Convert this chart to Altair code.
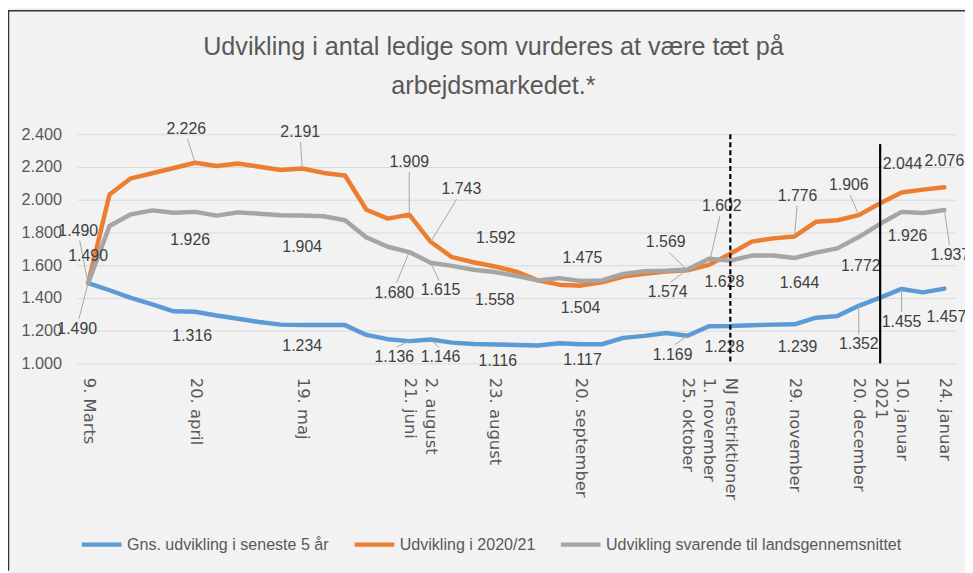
import altair as alt
import pandas as pd

# ---------------- data ----------------
week_idx = list(range(41))
series_names = [
    "Gns. udvikling i seneste 5 år",
    "Udvikling i 2020/21",
    "Udvikling svarende til landsgennemsnittet",
]
blue = [1490, 1447, 1400, 1360, 1318, 1316, 1293, 1273, 1253, 1237, 1234, 1234, 1234, 1174,
        1148, 1136, 1146, 1127, 1118, 1116, 1113, 1109, 1123, 1117, 1117, 1156, 1168, 1186,
        1169, 1227, 1228, 1233, 1237, 1239, 1279, 1289, 1352, 1402, 1455, 1434, 1457]
orange = [1490, 2032, 2131, 2162, 2194, 2226, 2206, 2222, 2202, 2182, 2191, 2164, 2148, 1939,
          1885, 1909, 1743, 1649, 1618, 1592, 1561, 1507, 1481, 1475, 1495, 1531, 1547, 1562,
          1569, 1602, 1670, 1744, 1764, 1776, 1865, 1875, 1906, 1979, 2044, 2062, 2076]
gray = [1490, 1840, 1911, 1935, 1921, 1926, 1903, 1923, 1915, 1905, 1904, 1899, 1875, 1770,
        1713, 1680, 1615, 1596, 1572, 1558, 1535, 1507, 1521, 1504, 1507, 1547, 1563, 1566,
        1574, 1640, 1628, 1659, 1659, 1644, 1677, 1703, 1772, 1853, 1926, 1919, 1937]

tick_idx = [0, 5, 10, 15, 16, 19, 23, 28, 29, 30, 33, 36, 37, 38, 40]
tick_labels = ["9. Marts", "20. april", "19. maj", "21. juni", "2. august", "23. august",
               "20. september", "25. oktober", "1. november", "NJ restriktioner",
               "29. november", "20. december", "2021", "10. januar", "24. januar"]
y_ticks = [1000, 1200, 1400, 1600, 1800, 2000, 2200, 2400]

blue_label_idx = [0, 5, 10, 15, 16, 19, 23, 28, 30, 33, 36, 38, 40]
orange_label_idx = [0, 5, 10, 15, 16, 19, 23, 28, 29, 33, 36, 38, 40]
gray_label_idx = [0, 5, 10, 15, 16, 19, 23, 28, 30, 33, 36, 38, 40]

marker_idx = [30, 37]
marker_top = [2400, 2340]

# ---------------- styling: label placement in pixels relative to its point ----------------
blue_label_off = [(-11, 46), (-3, 25), (0, 21), (-15, 16), (10, 18), (3, 17), (2, 16),
                  (-15, 19), (-6, 21), (3, 23), (0, 39), (0, 33), (2, 29)]
orange_label_off = [(-10, -53), (-9, -34), (-2, -37), (0, -53), (31, -53), (1, -29), (2, -28),
                    (-22, -28), (13, -59), (3, -41), (-10, -30), (1, -29), (0, -27)]
gray_label_off = [(0, -27), (-5, 28), (0, 32), (-15, 41), (10, 28), (0, 28), (0, 27),
                  (-20, 23), (-6, 22), (5, 25), (2, 29), (6, 24), (6, 45)]

colors = ["#5B9BD5", "#ED7D31", "#A5A5A5"]
FONT = "Liberation Sans"
XFONT = "DejaVu Sans"
PLOT_W, PLOT_H = 885, 231
N_CAT = len(week_idx)
PX_PER_IDX = PLOT_W / N_CAT
PX_PER_UNIT = PLOT_H / (y_ticks[-1] - y_ticks[0])

# ---------------- tables ----------------
rows = []
for name, vals in zip(series_names, [blue, orange, gray]):
    for i, v in zip(week_idx, vals):
        rows.append({"series": name, "idx": i, "value": v})
lines_df = pd.DataFrame(rows)

lrows = []
for name, vals, lidx, offs in zip(series_names, [blue, orange, gray],
                                  [blue_label_idx, orange_label_idx, gray_label_idx],
                                  [blue_label_off, orange_label_off, gray_label_off]):
    for i, (dx, dy) in zip(lidx, offs):
        sign = 1 if dy > 0 else -1
        lrows.append({"series": name, "idx": i, "value": vals[i], "dx": dx, "dy": dy,
                      "ldx": dx * 0.85, "ldy": dy - sign * 10,
                      "leader": abs(dy) >= 33 or abs(dx) >= 10})
labels_df = pd.DataFrame(lrows)
leader_df = labels_df[labels_df["leader"]].reset_index(drop=True)

marker_df = pd.DataFrame({"idx": marker_idx, "top": marker_top,
                          "base": [y_ticks[0]] * len(marker_idx)})

# ---------------- scales / axes ----------------
x_scale = alt.Scale(domain=[-0.5, N_CAT - 0.5], nice=False, zero=False)
y_scale = alt.Scale(domain=[y_ticks[0], y_ticks[-1]], nice=False, zero=False)
color_scale = alt.Scale(domain=series_names, range=colors)

label_expr = " : ".join(f"datum.value == {i} ? '{t}'" for i, t in zip(tick_idx, tick_labels)) + " : ''"
x_axis = alt.Axis(values=tick_idx, labelExpr=label_expr, labelAngle=90, grid=False, domain=False,
                  ticks=False, labelFont=XFONT, labelFontSize=16.5, labelColor="#595959",
                  labelPadding=14, title=None, labelOverlap=False, labelFlush=False)
y_axis = alt.Axis(values=y_ticks, labelExpr="replace(format(datum.value, ',.0f'), ',', '.')",
                  grid=True, gridColor="#d9d9d9", gridWidth=1, domain=False, ticks=False,
                  labelFont=FONT, labelFontSize=16.4, labelColor="#595959", labelPadding=16,
                  title=None)

X = alt.X("idx:Q", scale=x_scale, axis=x_axis)
Y = alt.Y("value:Q", scale=y_scale, axis=y_axis)

legend = alt.Legend(orient="none", legendX=2, legendY=391, direction="horizontal", title=None,
                    symbolType="stroke", symbolSize=1600, symbolStrokeWidth=4.5,
                    labelFont=FONT, labelFontSize=16.2, labelColor="#595959", labelOffset=3,
                    columnPadding=16, padding=0, labelLimit=500)

layers = []
for name in series_names:
    layers.append(
        alt.Chart(lines_df).transform_filter(alt.datum.series == name)
        .mark_line(strokeWidth=4.5, strokeJoin="round", strokeCap="round")
        .encode(x=X, y=Y, color=alt.Color("series:N", scale=color_scale, legend=legend))
    )

leaders = alt.Chart(leader_df).transform_calculate(
    lx=f"datum.idx + datum.ldx / {PX_PER_IDX}",
    ly=f"datum.value - datum.ldy / {PX_PER_UNIT}",
).mark_rule(color="#a6a6a6", strokeWidth=1).encode(
    x=alt.X("lx:Q", scale=x_scale, axis=x_axis), x2="idx:Q",
    y=alt.Y("ly:Q", scale=y_scale, axis=y_axis), y2="value:Q",
)

texts = alt.Chart(labels_df).transform_calculate(
    txt="replace(format(datum.value, ',.0f'), ',', '.')",
    tx=f"datum.idx + datum.dx / {PX_PER_IDX}",
    ty=f"datum.value - datum.dy / {PX_PER_UNIT}",
).mark_text(font=FONT, fontSize=16, color="#404040", align="center", baseline="middle").encode(
    x=alt.X("tx:Q", scale=x_scale, axis=x_axis),
    y=alt.Y("ty:Q", scale=y_scale, axis=y_axis),
    text="txt:N",
)

dashed = alt.Chart(marker_df.iloc[[0]]).mark_rule(color="black", strokeWidth=2.2, strokeDash=[5, 3]).encode(
    x=alt.X("idx:Q", scale=x_scale, axis=x_axis),
    y=alt.Y("top:Q", scale=y_scale, axis=y_axis), y2="base:Q")
solid = alt.Chart(marker_df.iloc[[1]]).mark_rule(color="black", strokeWidth=2.2).encode(
    x=alt.X("idx:Q", scale=x_scale, axis=x_axis),
    y=alt.Y("top:Q", scale=y_scale, axis=y_axis), y2="base:Q")

border_left = alt.Chart(marker_df.iloc[[0]]).mark_rule(color="#333333", strokeWidth=1.5).encode(
    x=alt.value(-69.5), y=alt.value(-125), y2=alt.value(440))
border_top = alt.Chart(marker_df.iloc[[0]]).mark_rule(color="#333333", strokeWidth=1.5).encode(
    x=alt.value(-70), x2=alt.value(895), y=alt.value(-124.5))

chart = alt.layer(*layers, leaders, texts, dashed, solid, border_left, border_top).properties(
    width=PLOT_W, height=PLOT_H,
    title=alt.TitleParams(
        text=["Udvikling i antal ledige som vurderes at være tæt på", "arbejdsmarkedet.*"],
        font=FONT, fontSize=25.4, fontWeight="normal", color="#595959", lineHeight=40,
        anchor="middle", frame="group", dx=-23, offset=-116, baseline="bottom"),
    autosize=alt.AutoSizeParams(type="none"),
    padding={"left": 70, "top": 125, "right": 10, "bottom": 209},
).configure(background="#f2f2f2").configure_view(stroke=None)

chart.save("out.html", embed_options={"renderer": "svg", "actions": False})
